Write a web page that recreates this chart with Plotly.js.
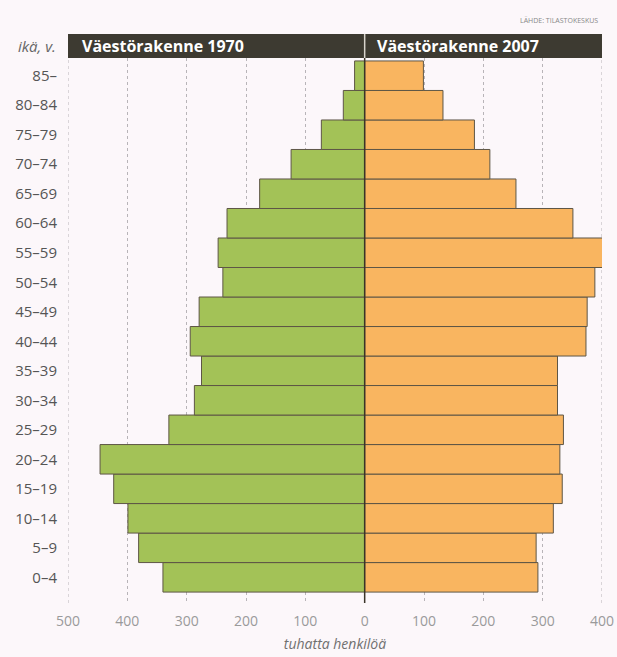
<!DOCTYPE html>
<html><head><meta charset="utf-8">
<script src="https://cdn.plot.ly/plotly-3.0.1.min.js"></script>
<style>html,body{margin:0;padding:0;background:#fcf7fa;}#chart{width:617px;height:657px;}</style>
</head><body><div id="chart"></div>
<script>
const ageGroups = ["0–4","5–9","10–14","15–19","20–24","25–29","30–34","35–39","40–44","45–49","50–54","55–59","60–64","65–69","70–74","75–79","80–84","85–"];
const pop1970 = [340,381,399,423,446,330,287,275,294,279,239,247,232,177,124,73,36,17];
const pop2007 = [292,289,318,333,329,335,325,325,373,375,388,405,351,255,211,185,132,99];
const tickVals = [-500,-400,-300,-200,-100,0,100,200,300,400];
const tickText = ["500","400","300","200","100","0","100","200","300","400"];
const header1970 = "Väestörakenne 1970";
const header2007 = "Väestörakenne 2007";

const outline = {color:"#5e5646", width:1};
const traces = [
  {type:"bar", orientation:"h", y:ageGroups, x:pop1970.map(v=>-v), base:0,
   marker:{color:"#a3c257", line:outline}, hoverinfo:"skip", name:"1970"},
  {type:"bar", orientation:"h", y:ageGroups, x:pop2007, base:0,
   marker:{color:"#f9b560", line:outline}, hoverinfo:"skip", name:"2007"}
];
const font = "'Open Sans', 'Noto Sans', sans-serif";
const dotLine = {color:"#b8b4b8", width:1, dash:"dot"};
const layout = {
  width:617, height:657,
  margin:{l:68, r:15, t:58, b:54},
  paper_bgcolor:"#fcf7fa", plot_bgcolor:"#fcf7fa",
  barmode:"overlay", bargap:0, showlegend:false,
  font:{family:font},
  xaxis:{range:[-500.01,400.01], tickvals:tickVals, ticktext:tickText,
    showgrid:true, gridcolor:"#b8b4b8", griddash:"dot", gridwidth:1,
    zeroline:false, showline:false, ticks:"", fixedrange:true, ticklabelstandoff:8,
    tickfont:{size:14, color:"#9a9a9a"},
    title:{text:"<i>tuhatta henkilöä</i>", font:{size:14, color:"#707070"}, standoff:10}},
  yaxis:{type:"category", range:[-0.87,17.6], showgrid:false, zeroline:false,
    ticks:"", ticklabelstandoff:10, tickfont:{size:15, color:"#555"}, fixedrange:true},
  shapes:[
    {type:"line", xref:"x", yref:"paper", x0:-500, x1:-500, y0:0, y1:1, line:dotLine, layer:"below"},
    {type:"line", xref:"x", yref:"paper", x0:400, x1:400, y0:0, y1:1, line:dotLine, layer:"below"},
    {type:"rect", xref:"x", yref:"paper", x0:-500, x1:400, y0:1, y1:1.044, fillcolor:"#3d3a31", line:{width:0}},
    {type:"line", xref:"x", yref:"paper", x0:0, x1:0, y0:1, y1:1.044, line:{color:"#d8d4cc", width:1.5}},
    {type:"line", xref:"x", yref:"paper", x0:0, x1:0, y0:0, y1:1, line:{color:"#3a3428", width:1.5}}
  ],
  annotations:[
    {xref:"x", yref:"paper", x:-480, y:1.022, xanchor:"left", yanchor:"middle", showarrow:false,
     text:"<b>"+header1970+"</b>", font:{size:16, color:"#ffffff", family:font}},
    {xref:"x", yref:"paper", x:18, y:1.022, xanchor:"left", yanchor:"middle", showarrow:false,
     text:"<b>"+header2007+"</b>", font:{size:16, color:"#ffffff", family:font}},
    {xref:"paper", yref:"paper", x:0, y:1.022, xanchor:"right", yanchor:"middle", xshift:-10, showarrow:false,
     text:"<i>ikä, v.</i>", font:{size:15, color:"#666", family:font}},
    {xref:"paper", yref:"paper", x:1, y:1.068, xanchor:"right", yanchor:"middle", xshift:-2, showarrow:false,
     text:"LÄHDE: TILASTOKESKUS", font:{size:7, color:"#888", family:font}}
  ]
};
Plotly.newPlot("chart", traces, layout, {displayModeBar:false, staticPlot:true});
</script></body></html>
